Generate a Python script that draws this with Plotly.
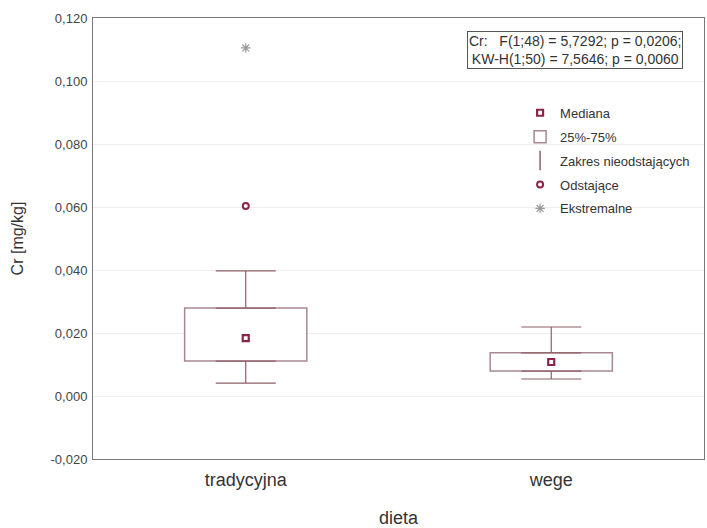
import plotly.graph_objects as go

categories = ["tradycyjna", "wege"]
q1 = [0.0111, 0.0079]
median = [0.0184, 0.0108]
q3 = [0.0279, 0.0137]
lower = [0.0041, 0.0054]
upper = [0.0397, 0.0219]
outlier_cat = [0]
outlier_val = [0.0603]
extreme_cat = [0]
extreme_val = [0.1105]
y_ticks = [-0.02, 0.0, 0.02, 0.04, 0.06, 0.08, 0.10, 0.12]
y_tick_labels = ["-0,020", "0,000", "0,020", "0,040", "0,060", "0,080", "0,100", "0,120"]

xpos = list(range(len(categories)))
BOX_LINE = "#a88890"
WHISK = "#8f5f68"
MED = "#8b2545"
FONT = "Liberation Sans, Arial, sans-serif"

fig = go.Figure()

# whiskers (upper / lower) as error bars
fig.add_trace(go.Scatter(
    x=xpos, y=q3, mode="markers", marker=dict(size=0.1, opacity=0),
    error_y=dict(type="data", symmetric=False,
                 array=[u - q for u, q in zip(upper, q3)],
                 arrayminus=[0] * len(q3), color=WHISK, thickness=1.2, width=30),
    showlegend=False, hoverinfo="skip"))
fig.add_trace(go.Scatter(
    x=xpos, y=q1, mode="markers", marker=dict(size=0.1, opacity=0),
    error_y=dict(type="data", symmetric=False,
                 array=[0] * len(q1),
                 arrayminus=[q - l for q, l in zip(q1, lower)], color=WHISK, thickness=1.2, width=30),
    showlegend=False, hoverinfo="skip"))

# median
fig.add_trace(go.Scatter(
    x=xpos, y=median, mode="markers",
    marker=dict(symbol="square-open", size=6, color=MED, line=dict(width=2.2, color=MED)),
    name="Mediana", legendgroup="a", legendrank=1))

# box 25%-75%
fig.add_trace(go.Bar(
    x=xpos, y=[b - a for a, b in zip(q1, q3)], base=q1, width=0.4,
    marker=dict(color="white", line=dict(color=BOX_LINE, width=1.5)),
    name="25%-75%", legendgroup="b", legendrank=2))

# legend entry for whisker range
fig.add_trace(go.Scatter(
    x=[None], y=[None], mode="markers",
    marker=dict(symbol="line-ns-open", size=14, color=WHISK, line=dict(width=1.5, color=WHISK)),
    name="Zakres nieodstających", legendgroup="c", legendrank=3))

# outliers
fig.add_trace(go.Scatter(
    x=outlier_cat, y=outlier_val, mode="markers",
    marker=dict(symbol="circle-open", size=6, color=MED, line=dict(width=2, color=MED)),
    name="Odstające", legendgroup="d", legendrank=4))

# extremes
fig.add_trace(go.Scatter(
    x=extreme_cat, y=extreme_val, mode="markers",
    marker=dict(symbol="asterisk-open", size=8, color="#999999", line=dict(width=1.2, color="#999999")),
    name="Ekstremalne", legendgroup="e", legendrank=5))

fig.add_annotation(
    x=0.789, y=0.927, xref="paper", yref="paper", xanchor="center", yanchor="middle",
    text="Cr:   F(1;48) = 5,7292; p = 0,0206;<br>KW-H(1;50) = 7,5646; p = 0,0060",
    showarrow=False, align="center", font=dict(family=FONT, size=14, color="#333333"),
    bordercolor="#555555", borderwidth=1, borderpad=1, bgcolor="white")

fig.update_layout(
    width=707, height=528,
    margin=dict(l=93, r=2, t=18, b=69),
    paper_bgcolor="white", plot_bgcolor="white",
    separators=",.",
    font=dict(family=FONT, color="#333333"),
    barmode="overlay",
    legend=dict(x=0.699, y=0.819, xanchor="left", yanchor="top",
                bgcolor="rgba(0,0,0,0)", font=dict(family=FONT, size=13, color="#333333"),
                tracegroupgap=4, itemwidth=30, traceorder="grouped"),
    xaxis=dict(range=[-0.5, 1.5], tickvals=xpos, ticktext=categories,
               showgrid=False, zeroline=False, showline=True, linecolor="#777777",
               mirror=True, ticks="", ticklabelstandoff=4, tickfont=dict(size=18, color="#333333"),
               title=dict(text="dieta", font=dict(size=18, color="#333333"), standoff=24)),
    yaxis=dict(range=[-0.02, 0.12], tickvals=y_ticks, ticktext=y_tick_labels,
               showgrid=True, gridcolor="#eeeeee", zeroline=False,
               showline=True, linecolor="#777777", mirror=True, ticks="",
               ticklabelstandoff=2,
               tickfont=dict(size=13, color="#444444"),
               title=dict(text="Cr [mg/kg]", font=dict(size=16, color="#333333"), standoff=22)),
)

fig.write_html(
    "out.html",
    config={"displayModeBar": False},
    post_script="document.body.style.margin='0px';"
                "var gd=document.getElementById('{plot_id}');"
                "Plotly.relayout(gd,{width:707,height:528});",
)
